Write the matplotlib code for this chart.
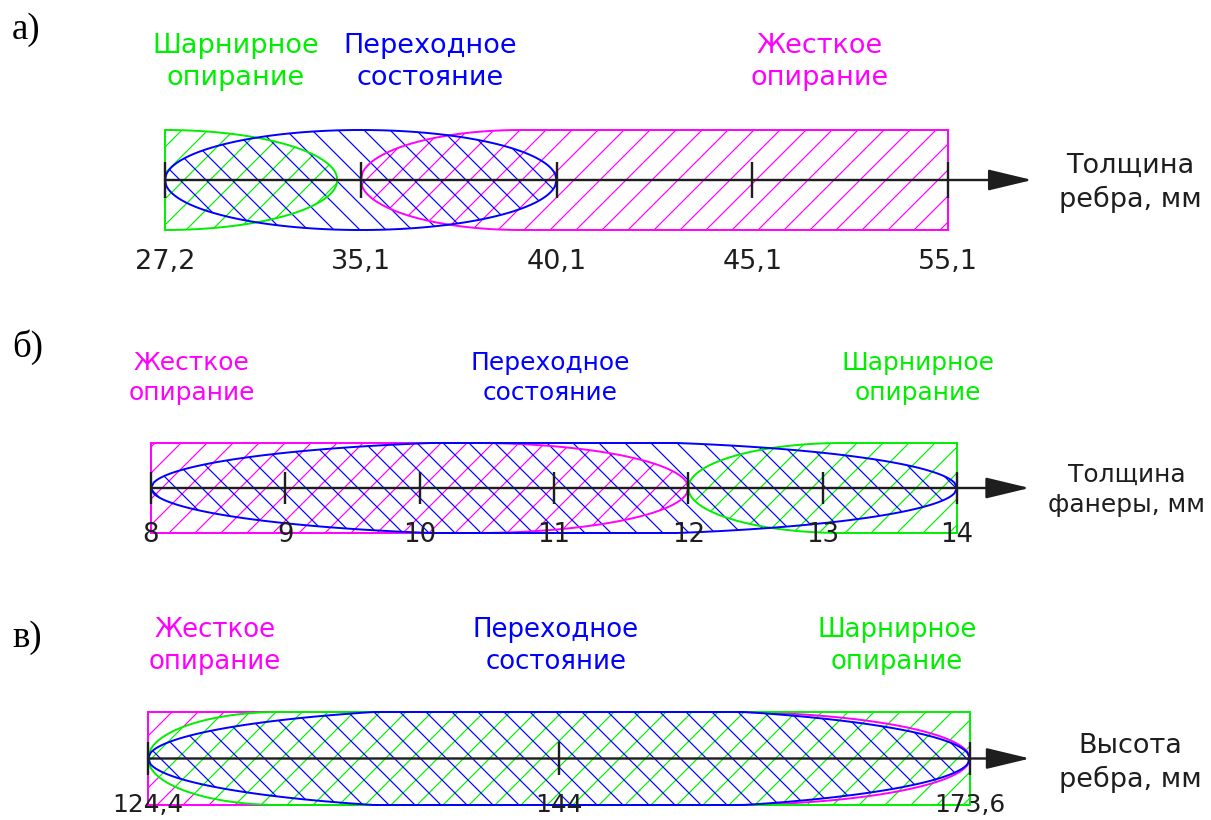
import numpy as np
import matplotlib.pyplot as plt
from matplotlib.patches import Polygon

W, H = 1211, 820
DPI = 156

GREEN = '#00ee00'
BLUE = '#0000ff'
MAGENTA = '#ff00ff'
INK = '#1e1e1e'

# zone = (start, end, left cap length, right cap length, bulge)
# panel a) - rib thickness, ticks equally spaced
a_ticks = [0, 1, 2, 3, 4]
a_labels = ['27,2', '35,1', '40,1', '45,1', '55,1']
a_hinged = (0, 0.88, 0, 0.88, 1.0)
a_trans = (0, 2, 1, 1, 1.0)
a_rigid = (1, 4, 0.82, 0, 1.0)

# panel b) - plywood thickness
b_ticks = [8, 9, 10, 11, 12, 13, 14]
b_labels = ['8', '9', '10', '11', '12', '13', '14']
b_rigid = (8, 12, 0, 1.6, 1.0)
b_trans = (8, 14, 3, 3, 1.05)
b_hinged = (12, 14, 1.15, 0, 1.0)

# panel c) - rib height
c_ticks = [0, 1, 2]
c_labels = ['124,4', '144', '173,6']
c_rigid = (0, 2, 0, 0.6, 1.0)
c_hinged = (0, 2, 0.32, 0, 1.0)
c_trans = (0, 2, 1, 1, 1.12)

hinged_txt = 'Шарнирное\nопирание'
trans_txt = 'Переходное\nсостояние'
rigid_txt = 'Жесткое\nопирание'

plt.rcParams['hatch.linewidth'] = 0.55
plt.rcParams['font.family'] = ['DejaVu Sans']

fig = plt.figure(figsize=(W / DPI, H / DPI), dpi=DPI)


def px(x, y):
    return x / W, 1 - y / H


def zone_xy(zone, n=300):
    x0, x1, lcap, rcap, bulge = zone
    x = np.linspace(x0, x1, n)
    h = np.ones_like(x)
    if lcap > 0:
        u = np.clip((x0 + lcap - x) / lcap, 0, 1)
        h = np.minimum(h, bulge * np.sqrt(1 - u ** 2))
    if rcap > 0:
        u = np.clip((x - (x1 - rcap)) / rcap, 0, 1)
        h = np.minimum(h, bulge * np.sqrt(1 - u ** 2))
    return np.concatenate([np.column_stack([x, h]), np.column_stack([x[::-1], -h[::-1]])])


def panel(box, xlim, ticks, labels, zones, tip, lab_y, fs):
    left, top, right, bottom = box
    ax = fig.add_axes([left / W, 1 - bottom / H, (right - left) / W, (bottom - top) / H])
    ax.set_xlim(*xlim)
    ax.set_ylim(-1, 1)
    ax.set_axis_off()
    # hatching first (the second '/' zone hides the first one's hatch where they overlap)
    for i, (zone, color, hatch) in enumerate(zones):
        face = 'white' if i == 1 else 'none'
        ax.add_patch(Polygon(zone_xy(zone), closed=True, facecolor=face, edgecolor=color,
                             hatch=hatch, lw=0, clip_on=False))
    for zone, color, hatch in zones:
        ax.add_patch(Polygon(zone_xy(zone), closed=True, facecolor='none',
                             edgecolor=color, lw=0.9, clip_on=False))
    ax.annotate('', xy=(tip, 0), xytext=(ticks[0], 0), annotation_clip=False,
                arrowprops=dict(arrowstyle='-|>,head_length=1.75,head_width=0.42',
                                mutation_scale=10, color=INK, lw=1.1,
                                shrinkA=0, shrinkB=0))
    ax.vlines(ticks, -0.36, 0.36, color=INK, lw=1.1, clip_on=False)
    for t, lab in zip(ticks, labels):
        ax.text(t, lab_y, lab, ha='center', va='center', fontsize=fs, color=INK, clip_on=False)
    return ax


panel((165, 130, 948, 230), (0, 4), a_ticks, a_labels,
      [(a_rigid, MAGENTA, '//'), (a_hinged, GREEN, '//'), (a_trans, BLUE, '\\\\')],
      4.43, -1.64, 12.5)
panel((151, 443, 957, 533), (8, 14), b_ticks, b_labels,
      [(b_rigid, MAGENTA, '//'), (b_hinged, GREEN, '//'), (b_trans, BLUE, '\\\\')],
      14.54, -1.04, 12)
panel((148, 712, 970, 805), (0, 2), c_ticks, c_labels,
      [(c_rigid, MAGENTA, '//'), (c_hinged, GREEN, '//'), (c_trans, BLUE, '\\\\')],
      2.146, -0.99, 11.5)

# panel letters
for letter, y in [('а)', 30), ('б)', 347), ('в)', 638)]:
    fig.text(*px(12, y), letter, ha='left', va='center', fontsize=17,
             family='Liberation Serif', color='black')

# zone captions
captions = [
    (hinged_txt, GREEN, 236, 62, 12.5), (trans_txt, BLUE, 430, 62, 12.5), (rigid_txt, MAGENTA, 820, 62, 12.5),
    (rigid_txt, MAGENTA, 192, 378, 11.5), (trans_txt, BLUE, 550, 378, 11.5), (hinged_txt, GREEN, 918, 378, 11.5),
    (rigid_txt, MAGENTA, 215, 646, 12), (trans_txt, BLUE, 556, 646, 12), (hinged_txt, GREEN, 897, 646, 12),
]
for txt, color, x, y, fs in captions:
    fig.text(*px(x, y), txt, ha='center', va='center', fontsize=fs, color=color, linespacing=1.32)

# axis names
for txt, x, y, fs in [('Толщина\nребра, мм', 1130, 183, 12.5),
                      ('Толщина\nфанеры, мм', 1127, 490, 11.5),
                      ('Высота\nребра, мм', 1130, 763, 12.5)]:
    fig.text(*px(x, y), txt, ha='center', va='center', fontsize=fs, color=INK, linespacing=1.35)

fig.savefig('out.png', dpi=DPI)
